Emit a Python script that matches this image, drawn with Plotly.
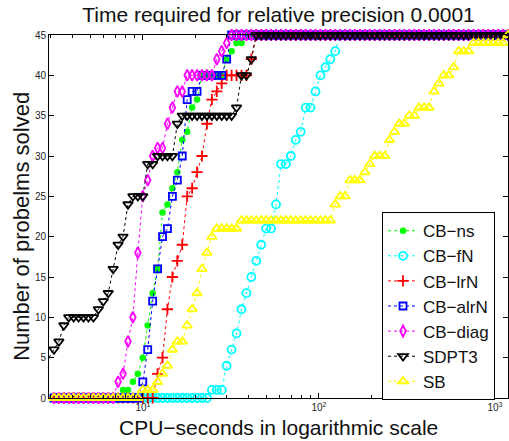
import numpy as np
import plotly.graph_objects as go

# sampling grid of CPU times (log-spaced, shared by all solvers)
x_log_start = 0.466
x_log_stop = 3.074
n_samples = 94
cpu_seconds = np.logspace(x_log_start, x_log_stop, n_samples)

series_names = ["CB\u2212ns", "CB\u2212fN", "CB\u2212lrN", "CB\u2212alrN", "CB\u2212diag", "SDPT3", "SB"]

cb_ns = [0, 0, 0, 0, 0, 0, 0, 0, 0, 0,
         0, 0, 0, 0, 0, 1, 1, 2, 3, 5,
         9, 13, 16, 23, 24, 26, 28, 32, 33, 36,
         37, 40, 40, 40, 40, 40, 42, 43, 44, 44,
         45, 45, 45, 45, 45, 45, 45, 45, 45, 45,
         45, 45, 45, 45, 45, 45, 45, 45, 45, 45,
         45, 45, 45, 45, 45, 45, 45, 45, 45, 45,
         45, 45, 45, 45, 45, 45, 45, 45, 45, 45,
         45, 45, 45, 45, 45, 45, 45, 45, 45, 45,
         45, 45, 45, 45]

cb_fn = [0, 0, 0, 0, 0, 0, 0, 0, 0, 0,
         0, 0, 0, 0, 0, 0, 0, 0, 0, 0,
         0, 0, 0, 0, 0, 0, 0, 0, 0, 0,
         0, 0, 0, 1, 1, 1, 4, 6, 8, 11,
         13, 15, 17, 19, 21, 21, 24, 29, 29, 30,
         32, 33, 36, 36, 38, 40, 41, 42, 43, 45,
         45, 45, 45, 45, 45, 45, 45, 45, 45, 45,
         45, 45, 45, 45, 45, 45, 45, 45, 45, 45,
         45, 45, 45, 45, 45, 45, 45, 45, 45, 45,
         45, 45, 45, 45]

cb_lrn = [0, 0, 0, 0, 0, 0, 0, 0, 0, 0,
          0, 0, 0, 0, 0, 0, 0, 0, 0, 0,
          0, 0, 3, 5, 11, 15, 17, 19, 25, 26,
          28, 30, 34, 37, 38, 39, 40, 40, 40, 40,
          40, 42, 45, 45, 45, 45, 45, 45, 45, 45,
          45, 45, 45, 45, 45, 45, 45, 45, 45, 45,
          45, 45, 45, 45, 45, 45, 45, 45, 45, 45,
          45, 45, 45, 45, 45, 45, 45, 45, 45, 45,
          45, 45, 45, 45, 45, 45, 45, 45, 45, 45,
          45, 45, 45, 45]

cb_alrn = [0, 0, 0, 0, 0, 0, 0, 0, 0, 0,
           0, 0, 0, 0, 0, 0, 0, 0, 0, 2,
           6, 12, 16, 20, 21, 25, 27, 30, 37, 38,
           38, 40, 40, 40, 40, 40, 42, 45, 45, 45,
           45, 45, 45, 45, 45, 45, 45, 45, 45, 45,
           45, 45, 45, 45, 45, 45, 45, 45, 45, 45,
           45, 45, 45, 45, 45, 45, 45, 45, 45, 45,
           45, 45, 45, 45, 45, 45, 45, 45, 45, 45,
           45, 45, 45, 45, 45, 45, 45, 45, 45, 45,
           45, 45, 45, 45]

cb_diag = [0, 0, 0, 0, 0, 0, 0, 0, 0, 0,
           0, 0, 0, 0, 2, 3, 7, 10, 18, 25,
           27, 30, 31, 31, 34, 36, 38, 38, 40, 40,
           40, 40, 40, 40, 42, 43, 44, 45, 45, 45,
           45, 45, 45, 45, 45, 45, 45, 45, 45, 45,
           45, 45, 45, 45, 45, 45, 45, 45, 45, 45,
           45, 45, 45, 45, 45, 45, 45, 45, 45, 45,
           45, 45, 45, 45, 45, 45, 45, 45, 45, 45,
           45, 45, 45, 45, 45, 45, 45, 45, 45, 45,
           45, 45, 45, 45]

sdpt3 = [5, 6, 7, 9, 10, 10, 10, 10, 10, 10,
         11, 12, 13, 16, 19, 20, 24, 25, 25, 25,
         29, 29, 30, 30, 30, 30, 34, 35, 35, 35,
         35, 35, 35, 35, 35, 35, 35, 35, 36, 40,
         40, 42, 45, 45, 45, 45, 45, 45, 45, 45,
         45, 45, 45, 45, 45, 45, 45, 45, 45, 45,
         45, 45, 45, 45, 45, 45, 45, 45, 45, 45,
         45, 45, 45, 45, 45, 45, 45, 45, 45, 45,
         45, 45, 45, 45, 45, 45, 45, 45, 45, 45,
         45, 45, 45, 45]

sb = [0, 0, 0, 0, 0, 0, 0, 0, 0, 0,
      0, 0, 0, 0, 0, 0, 0, 0, 0, 1,
      1, 1, 2, 3, 4, 6, 7, 7, 9, 11,
      13, 16, 18, 20, 21, 21, 21, 21, 21, 22,
      22, 22, 22, 22, 22, 22, 22, 22, 22, 22,
      22, 22, 22, 22, 22, 22, 22, 22, 24, 25,
      25, 27, 27, 27, 28, 29, 30, 30, 30, 32,
      33, 34, 34, 35, 35, 36, 36, 36, 38, 39,
      40, 40, 41, 43, 43, 43, 44, 44, 44, 44,
      44, 44, 44, 45]

x_tick_values = [10, 100, 1000]
x_tick_labels = ["10<sup>1</sup>", "10<sup>2</sup>", "10<sup>3</sup>"]
x_minor_values = [3, 4, 5, 6, 7, 8, 9, 20, 30, 40, 50, 60, 70, 80, 90,
                  200, 300, 400, 500, 600, 700, 800, 900]
y_tick_values = [0, 5, 10, 15, 20, 25, 30, 35, 40, 45]

title_text = "Time required for relative precision 0.0001"
x_title_text = "CPU\u2212seconds in logarithmic scale"
y_title_text = "Number of probelms solved"

all_series = [cb_ns, cb_fn, cb_lrn, cb_alrn, cb_diag, sdpt3, sb]
colors = ["#00ff00", "#00ffff", "#ff0000", "#0000ff", "#ff00ff", "#000000", "#ffff00"]
symbols = ["circle", "circle-open", "cross-thin-open", "square-open",
           "diamond-tall-open", "triangle-down-open", "triangle-up-open"]
sizes = [6.5, 8, 8, 7, 8, 8.5, 8.5]

fig = go.Figure()
for name, vals, col, sym, sz in zip(series_names, all_series, colors, symbols, sizes):
    fig.add_trace(go.Scatter(
        x=cpu_seconds, y=vals, name=name, mode="lines+markers",
        line=dict(color=col, width=1, dash="dot"),
        marker=dict(symbol=sym, size=sz, color=col,
                    line=dict(color=col, width=0 if sym == "circle" else 1.8)),
        cliponaxis=False,
    ))

font_family = "Liberation Sans, Arial, sans-serif"
fig.update_layout(
    width=509, height=441,
    margin=dict(l=49, r=1, t=35, b=43, autoexpand=False),
    paper_bgcolor="white", plot_bgcolor="white",
    font=dict(family=font_family, color="#000000"),
    title=dict(text=title_text,
               font=dict(size=21, color="#111"), x=0.5, xref="paper",
               y=1 - 15 / 441, yref="container", yanchor="middle"),
    showlegend=True,
    legend=dict(x=0.7255, y=0.512, xanchor="left", yanchor="top",
                bordercolor="black", borderwidth=1, bgcolor="white",
                font=dict(size=17, family=font_family, color="#111"),
                tracegroupgap=0, itemwidth=30),
    annotations=[
        dict(text=x_title_text, xref="paper", yref="paper",
             x=0.499, y=-0.08, xanchor="center", yanchor="middle",
             showarrow=False, font=dict(size=21, color="#111")),
        dict(text=y_title_text, xref="paper", yref="paper",
             x=-0.059, y=0.474, xanchor="center", yanchor="middle",
             textangle=-90, showarrow=False, font=dict(size=22, color="#111")),
    ],
)
fig.update_xaxes(
    type="log", range=[x_log_start, x_log_stop], automargin=False,
    tickmode="array", tickvals=x_tick_values, ticktext=x_tick_labels,
    ticks="inside", ticklen=5, tickcolor="black", mirror="allticks",
    showline=True, linecolor="black", linewidth=1,
    showgrid=False, zeroline=False,
    tickfont=dict(size=10, color="#222"),
    minor=dict(tickmode="array", tickvals=x_minor_values, ticks="inside",
               ticklen=3, tickcolor="black", showgrid=False),
)
fig.update_yaxes(
    range=[0, 45], tickmode="array", tickvals=y_tick_values, automargin=False,
    ticks="inside", ticklen=5, tickcolor="black", mirror="allticks",
    showline=True, linecolor="black", linewidth=1,
    showgrid=False, zeroline=False,
    tickfont=dict(size=10, color="#222"),
)

fig.write_html("out.html", config={"displayModeBar": False},
               post_script="document.body.style.margin='0';")
